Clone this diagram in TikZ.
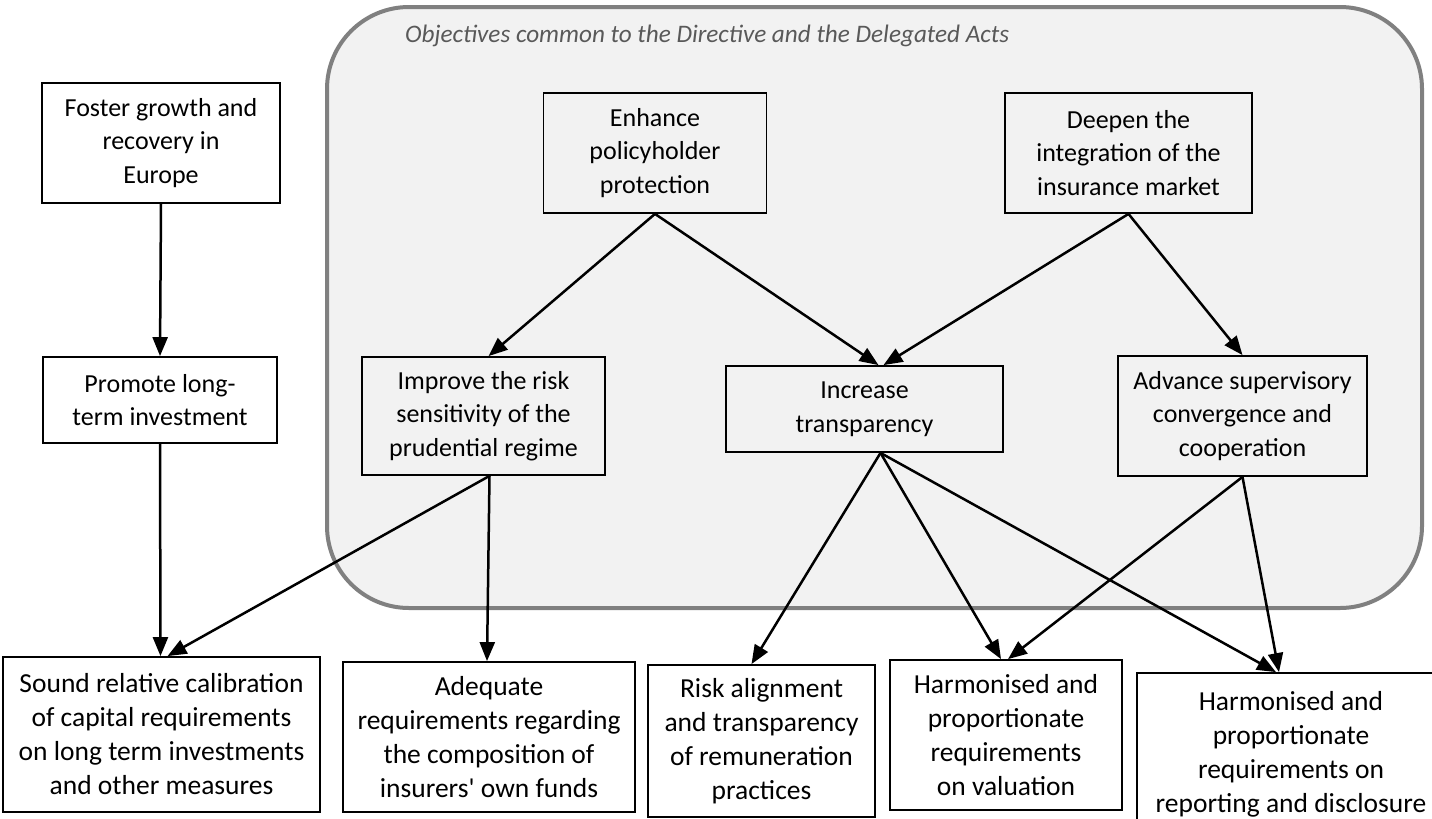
\documentclass[tikz,border=0pt]{standalone}
\usepackage{fontspec}
\setmainfont{Carlito}
\usetikzlibrary{arrows.meta}
\definecolor{panelfill}{HTML}{F2F2F2}
\definecolor{panelline}{HTML}{808080}
\definecolor{titlegray}{HTML}{595959}
\begin{document}
\begin{tikzpicture}[x=1pt,y=-1pt,
  objbox/.style={draw=black,line width=1.8pt,fill=white,align=center,inner sep=0pt,
    font=\fontsize{26}{33.5}\selectfont},
  inbox/.style={objbox,fill=panelfill},
  lowbox/.style={objbox,font=\fontsize{27.5}{34}\selectfont},
  arr/.style={line width=2.5pt,-{Triangle[length=19pt,width=15pt]}}
]
\useasboundingbox (0,0) rectangle (1432,819);
% container
\draw[line width=4pt,draw=panelline,fill=panelfill,rounded corners=82pt] (327,7) rectangle (1422,608);
\node[anchor=base west,font=\fontsize{25.2}{30}\selectfont\itshape,text=titlegray,inner sep=0pt] (title) at (405,42)
  {Objectives common to the Directive and the Delegated Acts};
% left column
\node[objbox,minimum width=238pt,minimum height=120pt] (foster) at (161,143) {Foster growth and\\recovery in\\Europe};
\node[objbox,minimum width=234pt,minimum height=86pt] (promote) at (160,400) {Promote long-\\term investment};
% inside container
\node[inbox,minimum width=223pt,minimum height=120pt] (enhance) at (655,153) {Enhance\\policyholder\\protection};
\node[inbox,minimum width=247pt,minimum height=120pt] (deepen) at (1128.5,153) {Deepen the\\integration of the\\insurance market};
\node[inbox,minimum width=243pt,minimum height=118pt] (improve) at (483.5,416) {Improve the risk\\sensitivity of the\\prudential regime};
\node[inbox,minimum width=277pt,minimum height=86pt] (increase) at (864.5,409) {Increase\\transparency};
\node[inbox,minimum width=249pt,minimum height=120pt] (advance) at (1242.5,416) {Advance supervisory\\convergence and\\cooperation};
% bottom row
\node[lowbox,minimum width=317pt,minimum height=155pt] (sound) at (161.5,734.5) {Sound relative calibration\\of capital requirements\\on long term investments\\and other measures};
\node[lowbox,minimum width=292pt,minimum height=150pt] (adequate) at (489,737) {Adequate\\requirements regarding\\the composition of\\insurers\textquotesingle{} own funds};
\node[lowbox,minimum width=227pt,minimum height=152pt] (risk) at (761.5,741) {Risk alignment\\and transparency\\of remuneration\\practices};
\node[lowbox,minimum width=232pt,minimum height=150pt] (harmval) at (1006,735) {Harmonised and\\proportionate\\requirements\\on valuation};
\node[lowbox,minimum width=308pt,minimum height=162pt] (harmrep) at (1291,754) {Harmonised and\\proportionate\\requirements on\\reporting and disclosure};
% connectors
\draw[arr] (foster.south) -- (promote.north);
\draw[arr] (promote.south) -- ([xshift=-1pt]sound.north);
\draw[arr] ([xshift=6pt]improve.south) -- ([xshift=6pt]sound.north);
\draw[arr] ([xshift=6pt]improve.south) -- ([xshift=-2pt]adequate.north);
\draw[arr] (enhance.south) -- ([xshift=5pt]improve.north);
\draw[arr] (enhance.south) -- ([xshift=14pt]increase.north);
\draw[arr] (deepen.south) -- ([xshift=19pt]increase.north);
\draw[arr] (deepen.south) -- (advance.north);
\draw[arr] ([xshift=16pt]increase.south) -- ([xshift=-10pt]risk.north);
\draw[arr] ([xshift=16pt]increase.south) -- ([xshift=-5pt]harmval.north);
\draw[arr] ([xshift=16pt]increase.south) -- ([xshift=-15pt]harmrep.north);
\draw[arr] (advance.south) -- ([xshift=2pt]harmval.north);
\draw[arr] (advance.south) -- ([xshift=-12pt]harmrep.north);
\end{tikzpicture}
\end{document}
